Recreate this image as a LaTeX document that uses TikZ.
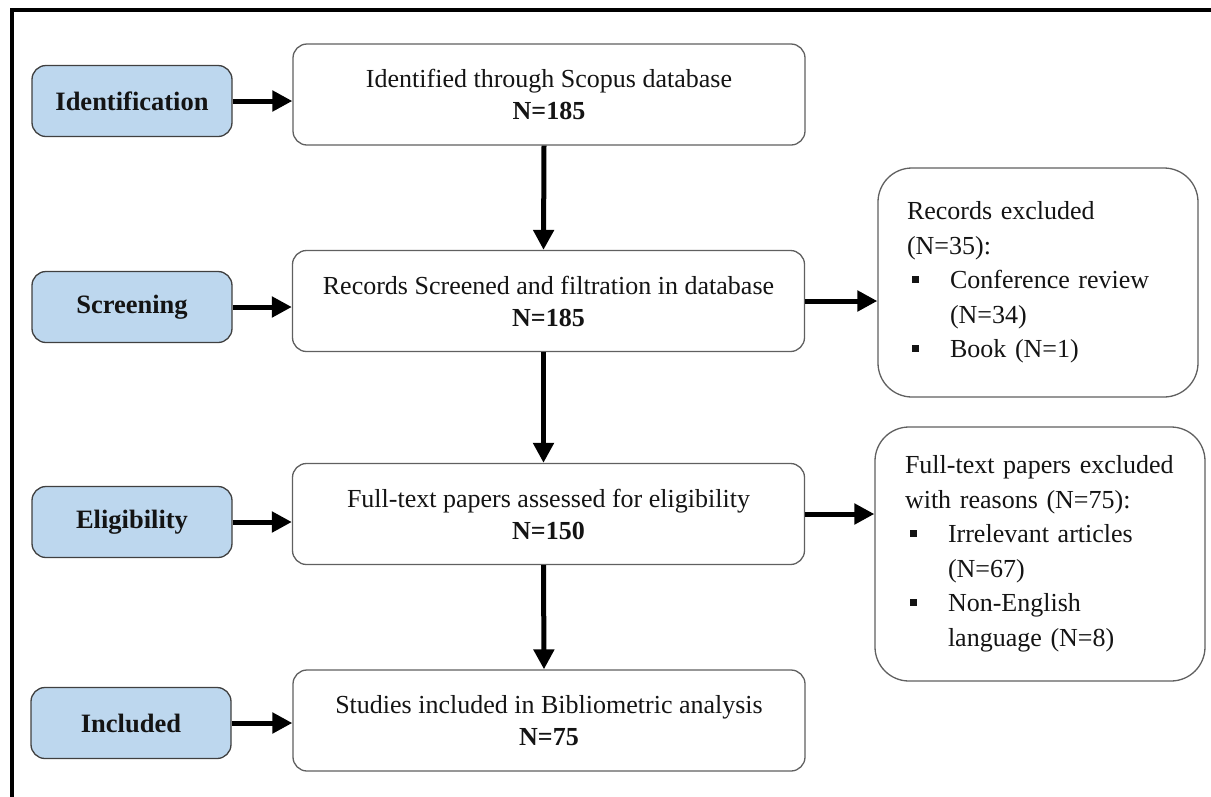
\documentclass[tikz,border=0pt]{standalone}
\usepackage{fontspec}
\setmainfont{Liberation Serif}
\usetikzlibrary{arrows.meta}
\definecolor{labfill}{RGB}{189,215,238}
\definecolor{labdraw}{RGB}{64,64,64}
\definecolor{boxdraw}{RGB}{96,96,96}
\definecolor{txt}{RGB}{20,20,20}
\newcommand{\sqbullet}{\makebox[43pt][l]{\hspace*{5pt}\rule[6pt]{6.5pt}{6.5pt}}}
\tikzset{
  stagebox/.style={draw=labdraw, line width=1.3pt, fill=labfill, rounded corners=14pt,
    minimum width=200pt, minimum height=71pt, inner sep=0pt, text=txt,
    font=\fontsize{26.5}{30}\selectfont\bfseries},
  mainbox/.style={draw=boxdraw, line width=1.3pt, fill=white, rounded corners=14pt,
    minimum width=512pt, minimum height=101pt, inner sep=0pt, align=center, text=txt,
    font=\fontsize{26}{32}\selectfont},
  sidebox/.style={draw=boxdraw, line width=1.3pt, fill=white, rounded corners=34pt,
    inner ysep=0pt, align=left, text=txt, font=\fontsize{26}{34.5}\selectfont},
  flowarrow/.style={line width=5pt, -{Triangle[length=20pt,width=20pt]}},
}
\begin{document}
\begin{tikzpicture}[x=1pt,y=-1pt]
\useasboundingbox (0,0) rectangle (1211,796);
\draw[line width=4pt] (12,800) -- (12,10.3) -- (1215,10.3);

\node[stagebox] (l1) at (132,101) {Identification};
\node[stagebox] (l2) at (132,307) {Screening};
\node[stagebox] (l3) at (132,522) {Eligibility};
\node[stagebox] (l4) at (131,723) {Included};

\node[mainbox] (m1) at (549,94.5) {Identified through Scopus database\\\textbf{N=185}};
\node[mainbox] (m2) at (548.5,301) {Records Screened and filtration in database\\\textbf{N=185}};
\node[mainbox] (m3) at (548.5,514) {Full-text papers assessed for eligibility\\\textbf{N=150}};
\node[mainbox] (m4) at (549,720.5) {Studies included in Bibliometric analysis\\\textbf{N=75}};

\node[sidebox, text width=262pt, inner xsep=29pt, minimum height=229pt] (r1) at (1038,282.5)
  {Records excluded\\(N=35):\\\sqbullet Conference review\\\hspace*{43pt}(N=34)\\\sqbullet Book (N=1)\\[6pt]};
\node[sidebox, text width=270pt, inner xsep=30pt, minimum height=254pt] (r2) at (1040,554)
  {Full-text papers excluded\\with reasons (N=75):\\\sqbullet Irrelevant articles\\\hspace*{43pt}(N=67)\\\sqbullet Non-English\\\hspace*{43pt}language (N=8)};

\foreach \a/\b in {l1/m1,l2/m2,l3/m3,l4/m4}
  \draw[flowarrow] (\a.east) -- (\a.east -| \b.west);
\foreach \a/\b in {m1/m2,m2/m3,m3/m4}
  \draw[flowarrow] ([xshift=-5pt]\a.south) -- ([xshift=-5pt]\b.north);
\draw[flowarrow] (m2.east) -- (m2.east -| r1.west);
\draw[flowarrow] (m3.east) -- (m3.east -| r2.west);
\end{tikzpicture}
\end{document}
